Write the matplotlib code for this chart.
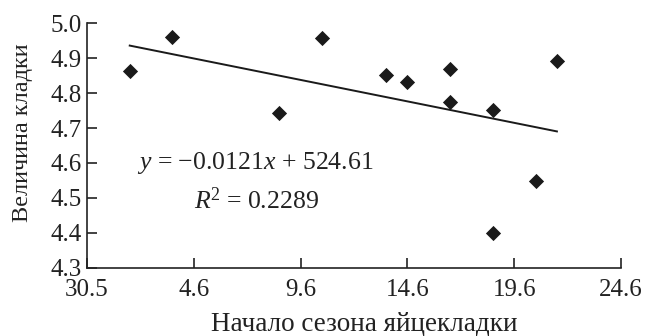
import numpy as np
import matplotlib
matplotlib.use("Agg")
import matplotlib.pyplot as plt

# Data: x = days after 30.5 (start of laying season), y = clutch size
x_days = [2, 4, 9, 11, 14, 15, 17, 17, 19, 19, 21, 22]
clutch = [4.864, 4.960, 4.742, 4.957, 4.853, 4.832, 4.868, 4.774, 4.751, 4.399, 4.548, 4.891]
x_ticks = [0, 5, 10, 15, 20, 25]
x_tick_labels = ["30.5", "4.6", "9.6", "14.6", "19.6", "24.6"]
y_ticks = [4.3, 4.4, 4.5, 4.6, 4.7, 4.8, 4.9, 5.0]

plt.rcParams['font.family'] = ['Liberation Serif', 'DejaVu Serif']
plt.rcParams['mathtext.fontset'] = 'custom'
plt.rcParams['mathtext.rm'] = 'Liberation Serif'
plt.rcParams['mathtext.it'] = 'Liberation Serif:italic'

fig = plt.figure(figsize=(6.46, 3.36), dpi=100)
ax = fig.add_axes([0.1347, 0.2033, 0.9613 - 0.1347, 0.9307 - 0.2033])

ax.scatter(x_days, clutch, marker='D', s=60, color='#1a1a1a', zorder=3, linewidths=0)

# Linear trend fitted to the data
coef = np.polyfit(x_days, clutch, 1)
xl = np.array([min(x_days), max(x_days)])
ax.plot(xl, np.polyval(coef, xl), color='#1a1a1a', lw=1.4)

ax.set_xlim(0, 25)
ax.set_ylim(4.3, 5.0)
ax.set_xticks(x_ticks)
ax.set_xticklabels(x_tick_labels)
ax.set_yticks(y_ticks)
ax.set_yticklabels([f"{v:.1f}" for v in y_ticks])

for s in ['top', 'right']:
    ax.spines[s].set_visible(False)
for s in ['left', 'bottom']:
    ax.spines[s].set_linewidth(1.2)
    ax.spines[s].set_color('#222222')

ax.tick_params(axis='both', direction='in', length=7, width=1.2, color='#222222',
               labelsize=18, labelcolor='#222222')
ax.tick_params(axis='x', pad=8)
ax.tick_params(axis='y', pad=4)

fig.text(255 / 646, 1 - 163 / 336, r'$y$ = −0.0121$x$ + 524.61', fontsize=18.5,
         ha='center', va='center', color='#222222')
fig.text(256 / 646, 1 - 201 / 336, r'$R$$^2$ = 0.2289', fontsize=18.5,
         ha='center', va='center', color='#222222')

fig.text(364 / 646, 1 - 331 / 336, 'Начало сезона яйцекладки', fontsize=19.5,
         ha='center', va='baseline', color='#222222')
fig.text(23 / 646, 1 - 133 / 336, 'Величина кладки', fontsize=17.5, rotation=90,
         ha='center', va='center', color='#222222')

fig.savefig('out.png', dpi=100)
